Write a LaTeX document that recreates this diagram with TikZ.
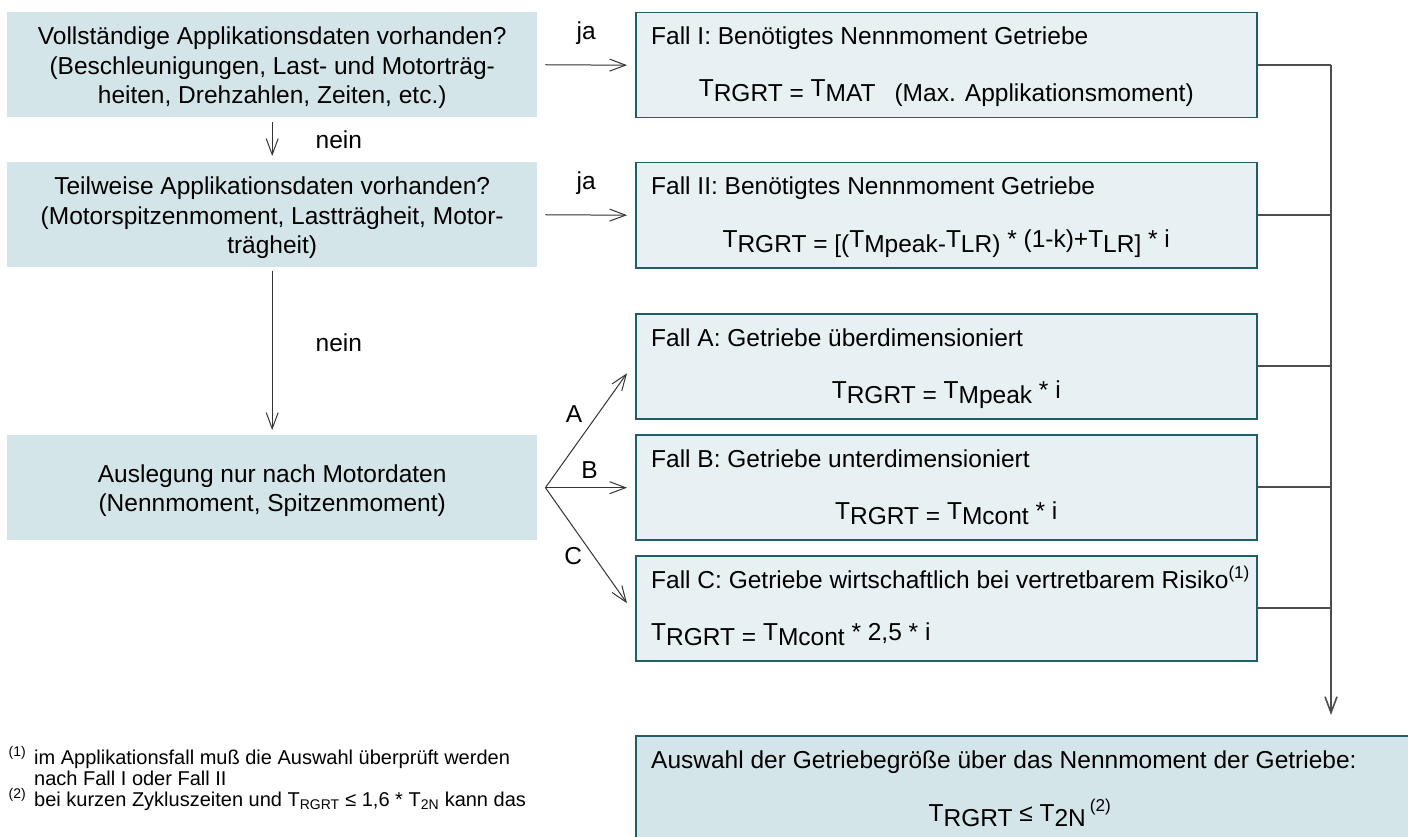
\documentclass[tikz,border=0pt]{standalone}
\usepackage{fontspec}
\setmainfont{Liberation Sans}
\usetikzlibrary{arrows.meta,calc}
\definecolor{askfill}{HTML}{D4E5EA}
\definecolor{casefill}{HTML}{E7F1F3}
\definecolor{caseline}{HTML}{1D5E69}
\definecolor{arrowgrey}{HTML}{333333}
\definecolor{busgrey}{HTML}{4D4D4D}
\newcommand{\hi}[1]{\raisebox{5pt}{#1}}
\begin{document}
\begin{tikzpicture}[
    x=1pt, y=-1pt,
    font=\fontsize{24.5}{29.5}\selectfont,
    askbox/.style={fill=askfill, minimum width=530pt, minimum height=105pt,
      inner sep=0pt, anchor=north west},
    asktext/.style={align=center, inner sep=0pt},
    casebox/.style={draw=caseline, fill=casefill, line width=1.5pt,
      minimum width=621pt, minimum height=105pt, inner sep=0pt, anchor=north west},
    title/.style={anchor=base west, inner sep=0pt},
    formula/.style={anchor=base, inner sep=0pt},
    arr/.style={draw=arrowgrey, line width=1pt, -{Straight Barb[length=16pt,width=12pt]}},
    bus/.style={draw=busgrey, line width=1.6pt},
    lbl/.style={inner sep=0pt}
  ]
  \clip (0,0) rectangle (1408,837);

  % questions on the left
  \node[askbox] (ask1) at (7,12) {};
  \node[asktext] (ask1-t) at ($(ask1.center)+(0,3)$) {Vollständige Applikationsdaten vorhanden?\\(Beschleunigungen, Last- und Motorträg-\\heiten, Drehzahlen, Zeiten, etc.)};
  \node[askbox] (ask2) at (7,162) {};
  \node[asktext] (ask2-t) at ($(ask2.center)+(0,3)$) {Teilweise Applikationsdaten vorhanden?\\(Motorspitzenmoment, Lastträgheit, Motor-\\trägheit)};
  \node[askbox] (ask3) at (7,435) {};
  \node[asktext] (ask3-t) at ($(ask3.center)+(0,3)$) {Auslegung nur nach Motordaten\\(Nennmoment, Spitzenmoment)};

  % cases on the right
  \node[casebox] (fallI) at (635,12) {};
  \node[title] (fallI-t) at ($(fallI.north west)+(16,33)$) {Fall I: Benötigtes Nennmoment Getriebe};
  \node[formula] (fallI-f) at ($(fallI.north)+(0,90)$) {\hi{T}RGRT = \hi{T}MAT\hspace{0.5em} (Max. Applikationsmoment)};

  \node[casebox] (fallII) at (635,162) {};
  \node[title] (fallII-t) at ($(fallII.north west)+(16,33)$) {Fall II: Benötigtes Nennmoment Getriebe};
  \node[formula] (fallII-f) at ($(fallII.north)+(0,90)$) {\hi{T}RGRT = [(\hi{T}Mpeak-\hi{T}LR) \hi{* (1-k)+T}LR] \hi{* i}};

  \node[casebox] (fallA) at (635,313) {};
  \node[title] (fallA-t) at ($(fallA.north west)+(16,33)$) {Fall A: Getriebe überdimensioniert};
  \node[formula] (fallA-f) at ($(fallA.north)+(0,90)$) {\hi{T}RGRT = \hi{T}Mpeak \hi{* i}};

  \node[casebox] (fallB) at (635,434) {};
  \node[title] (fallB-t) at ($(fallB.north west)+(16,33)$) {Fall B: Getriebe unterdimensioniert};
  \node[formula] (fallB-f) at ($(fallB.north)+(0,90)$) {\hi{T}RGRT = \hi{T}Mcont \hi{* i}};

  \node[casebox] (fallC) at (635,555) {};
  \node[title] (fallC-t) at ($(fallC.north west)+(16,33)$) {Fall C: Getriebe wirtschaftlich bei vertretbarem Risiko\textsuperscript{(1)}};
  \node[title] (fallC-f) at ($(fallC.north west)+(16,90)$) {\hi{T}RGRT = \hi{T}Mcont \hi{* 2,5 * i}};

  % result
  \node[casebox, fill=askfill, minimum width=790pt, minimum height=130pt] (pick) at (635,735) {};
  \node[title] (pick-t) at ($(pick.north west)+(16,33)$) {Auswahl der Getriebegröße über das Nennmoment der Getriebe:};
  \node[formula] (pick-f) at (1020,826) {\hi{T}RGRT \hi{≤ T}2N\hi{\,\textsuperscript{(2)}}};

  % decisions
  \draw[arr, shorten <=8pt, shorten >=8pt] (ask1.east) -- (fallI.west)
    node[lbl, midway, above=20pt] (ja1) {ja};
  \draw[arr, shorten <=8pt, shorten >=8pt] (ask2.east) -- (fallII.west)
    node[lbl, midway, above=20pt] (ja2) {ja};
  \draw[arr, shorten <=5pt, shorten >=6pt] (ask1.south) -- (ask2.north)
    node[lbl, midway, right=43pt] (nein1) {nein};
  \draw[arr, shorten <=4pt, shorten >=5pt] (ask2.south) -- (ask3.north)
    node[lbl, pos=0.45, right=43pt] (nein2) {nein};

  \coordinate (fork) at ($(ask3.east)+(8,0)$);
  \draw[arr] (fork) -- ($(fallA.west)+(-8,7)$) node[lbl, pos=0.64, left=15pt] (labA) {A};
  \draw[arr] (fork) -- ($(fork -| fallB.west)+(-8,0)$) node[lbl, pos=0.54, above=9pt] (labB) {B};
  \draw[arr] (fork) -- ($(fallC.west)+(-8,-5)$) node[lbl, pos=0.59, left=11pt] (labC) {C};

  % collecting line
  \coordinate (busx) at (1331,0);
  \foreach \b in {fallI,fallII,fallA,fallB,fallC}
    \draw[bus] (\b.east) -- (\b.east -| busx);
  \draw[bus, -{Straight Barb[length=16pt,width=12pt]}] (fallI.east -| busx) -- ($(pick.north -| busx)+(0,-20)$);

  % footnotes
  \node[anchor=base west, align=left, inner sep=0pt, font=\fontsize{20}{21}\selectfont] (notes) at (34,806)
    {\llap{\textsuperscript{(1)}\hspace{8pt}}im Applikationsfall muß die Auswahl überprüft werden\\
     nach Fall I oder Fall II\\
     \llap{\textsuperscript{(2)}\hspace{8pt}}bei kurzen Zykluszeiten und T\textsubscript{RGRT} ≤ 1,6 * T\textsubscript{2N} kann das};
\end{tikzpicture}
\end{document}
